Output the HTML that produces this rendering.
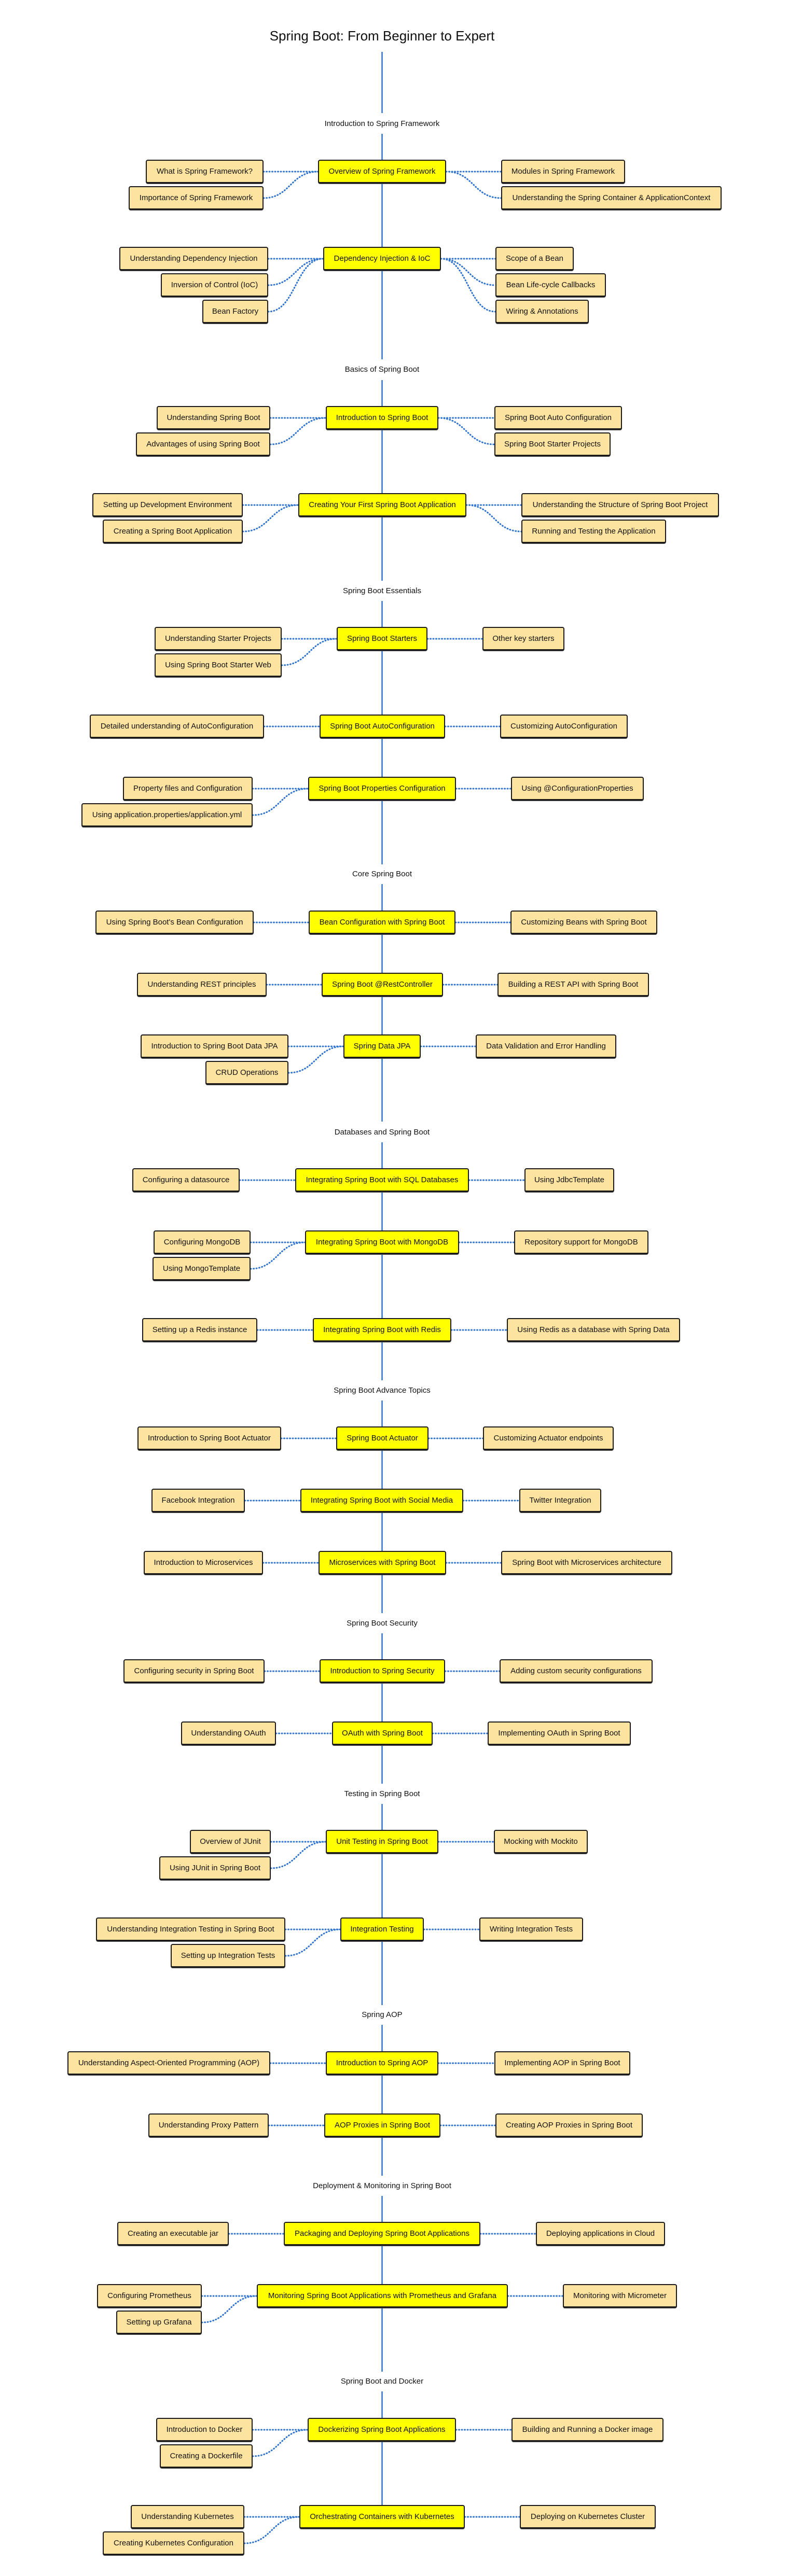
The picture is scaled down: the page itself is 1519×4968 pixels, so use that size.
<!DOCTYPE html>
<html><head><meta charset="utf-8"><style>
html,body{margin:0;padding:0;background:#fff;}
body{width:1519px;height:4968px;position:relative;overflow:hidden;font-family:"Liberation Sans",sans-serif;color:#111;}
svg{position:absolute;left:0;top:0;}
.b,.p{position:absolute;height:46px;box-sizing:border-box;border:2px solid #1a1a1a;border-bottom-width:3px;border-radius:4px;background:#fde3a0;display:flex;align-items:center;justify-content:center;font-size:15px;white-space:nowrap;box-shadow:0 1px 0 #555;}
.p{background:#ffff00;}
.l{position:absolute;left:0;width:1473px;text-align:center;font-size:15px;line-height:20px;}
.t{position:absolute;left:0;width:1473px;top:54px;text-align:center;font-size:26px;}
</style></head><body>
<svg width="1519" height="4968" viewBox="0 0 1519 4968">
<g stroke="#2f74d0" stroke-width="2.5" fill="none">
<path d="M736.5 100V218M736.5 258V693M736.5 733V1120M736.5 1159V1667M736.5 1705V2163M736.5 2203V2662M736.5 2701V3111M736.5 3150V3440M736.5 3479V3867M736.5 3905V4196M736.5 4235V4574M736.5 4612V4831"/>
</g>
<g stroke="#2f74d0" stroke-width="3" fill="none" stroke-dasharray="1 4.5" stroke-linecap="round">
<path d="M508 331 L613 331M508 382 C560 382 560 331 613 331M860 331 L966 331M860 331 C913 331 913 382 966 382"/>
<path d="M517 499 L623 499M517 550 C570 550 570 499 623 499M517 601 C570 601 570 499 623 499M850 499 L955 499M850 499 C902 499 902 550 955 550M850 499 C902 499 902 601 955 601"/>
<path d="M521 806 L628 806M521 857 C574 857 574 806 628 806M845 806 L953 806M845 806 C899 806 899 857 953 857"/>
<path d="M468 974 L575 974M468 1025 C521 1025 521 974 575 974M899 974 L1005 974M899 974 C952 974 952 1025 1005 1025"/>
<path d="M543 1232 L649 1232M543 1283 C596 1283 596 1232 649 1232M824 1232 L930 1232"/>
<path d="M509 1401 L616 1401M858 1401 L964 1401"/>
<path d="M487 1521 L594 1521M487 1572 C540 1572 540 1521 594 1521M879 1521 L985 1521"/>
<path d="M489 1779 L595 1779M878 1779 L984 1779M514 1899 L620 1899M854 1899 L959 1899"/>
<path d="M556 2018 L662 2018M556 2069 C609 2069 609 2018 662 2018M811 2018 L917 2018"/>
<path d="M462 2276 L569 2276M904 2276 L1011 2276"/>
<path d="M483 2396 L588 2396M483 2447 C535 2447 535 2396 588 2396M885 2396 L991 2396"/>
<path d="M496 2565 L603 2565M870 2565 L977 2565M542 2774 L648 2774M826 2774 L931 2774M472 2894 L579 2894M893 2894 L1001 2894M507 3014 L614 3014M860 3014 L966 3014"/>
<path d="M510 3223 L616 3223M858 3223 L963 3223M532 3343 L640 3343M834 3343 L940 3343"/>
<path d="M522 3552 L628 3552M522 3603 C575 3603 575 3552 628 3552M845 3552 L952 3552"/>
<path d="M550 3721 L656 3721M550 3772 C603 3772 603 3721 656 3721M817 3721 L924 3721"/>
<path d="M521 3979 L628 3979M845 3979 L953 3979M518 4099 L625 4099M849 4099 L955 4099"/>
<path d="M441 4308 L547 4308M926 4308 L1033 4308"/>
<path d="M389 4428 L495 4428M389 4479 C442 4479 442 4428 495 4428M979 4428 L1085 4428"/>
<path d="M487 4686 L593 4686M487 4737 C540 4737 540 4686 593 4686M879 4686 L986 4686"/>
<path d="M471 4854 L577 4854M471 4905 C524 4905 524 4854 577 4854M896 4854 L1002 4854"/>
</g>
</svg>

<div class="t">Spring Boot: From Beginner to Expert</div>

<div class="l" style="top:229px">Introduction to Spring Framework</div>
<div class="p" style="left:613px;top:308px;width:247px">Overview of Spring Framework</div>
<div class="b" style="left:281px;top:308px;width:227px">What is Spring Framework?</div>
<div class="b" style="left:248px;top:359px;width:260px">Importance of Spring Framework</div>
<div class="b" style="left:966px;top:308px;width:239px">Modules in Spring Framework</div>
<div class="b" style="left:966px;top:359px;width:425px">Understanding the Spring Container &amp; ApplicationContext</div>

<div class="p" style="left:623px;top:476px;width:227px">Dependency Injection &amp; IoC</div>
<div class="b" style="left:230px;top:476px;width:287px">Understanding Dependency Injection</div>
<div class="b" style="left:310px;top:527px;width:207px">Inversion of Control (IoC)</div>
<div class="b" style="left:390px;top:578px;width:127px">Bean Factory</div>
<div class="b" style="left:955px;top:476px;width:151px">Scope of a Bean</div>
<div class="b" style="left:955px;top:527px;width:213px">Bean Life-cycle Callbacks</div>
<div class="b" style="left:955px;top:578px;width:180px">Wiring &amp; Annotations</div>

<div class="l" style="top:703px">Basics of Spring Boot</div>
<div class="p" style="left:628px;top:783px;width:217px">Introduction to Spring Boot</div>
<div class="b" style="left:302px;top:783px;width:219px">Understanding Spring Boot</div>
<div class="b" style="left:262px;top:834px;width:259px">Advantages of using Spring Boot</div>
<div class="b" style="left:953px;top:783px;width:246px">Spring Boot Auto Configuration</div>
<div class="b" style="left:953px;top:834px;width:224px">Spring Boot Starter Projects</div>

<div class="p" style="left:575px;top:951px;width:324px">Creating Your First Spring Boot Application</div>
<div class="b" style="left:178px;top:951px;width:290px">Setting up Development Environment</div>
<div class="b" style="left:198px;top:1002px;width:270px">Creating a Spring Boot Application</div>
<div class="b" style="left:1005px;top:951px;width:381px">Understanding the Structure of Spring Boot Project</div>
<div class="b" style="left:1005px;top:1002px;width:279px">Running and Testing the Application</div>

<div class="l" style="top:1130px">Spring Boot Essentials</div>
<div class="p" style="left:649px;top:1209px;width:175px">Spring Boot Starters</div>
<div class="b" style="left:298px;top:1209px;width:245px">Understanding Starter Projects</div>
<div class="b" style="left:298px;top:1260px;width:245px">Using Spring Boot Starter Web</div>
<div class="b" style="left:930px;top:1209px;width:158px">Other key starters</div>

<div class="p" style="left:616px;top:1378px;width:242px">Spring Boot AutoConfiguration</div>
<div class="b" style="left:173px;top:1378px;width:336px">Detailed understanding of AutoConfiguration</div>
<div class="b" style="left:964px;top:1378px;width:246px">Customizing AutoConfiguration</div>

<div class="p" style="left:594px;top:1498px;width:285px">Spring Boot Properties Configuration</div>
<div class="b" style="left:237px;top:1498px;width:250px">Property files and Configuration</div>
<div class="b" style="left:157px;top:1549px;width:330px">Using application.properties/application.yml</div>
<div class="b" style="left:985px;top:1498px;width:256px">Using @ConfigurationProperties</div>

<div class="l" style="top:1676px">Core Spring Boot</div>
<div class="p" style="left:595px;top:1756px;width:283px">Bean Configuration with Spring Boot</div>
<div class="b" style="left:184px;top:1756px;width:305px">Using Spring Boot's Bean Configuration</div>
<div class="b" style="left:984px;top:1756px;width:283px">Customizing Beans with Spring Boot</div>

<div class="p" style="left:620px;top:1876px;width:234px">Spring Boot @RestController</div>
<div class="b" style="left:264px;top:1876px;width:250px">Understanding REST principles</div>
<div class="b" style="left:959px;top:1876px;width:292px">Building a REST API with Spring Boot</div>

<div class="p" style="left:662px;top:1995px;width:149px">Spring Data JPA</div>
<div class="b" style="left:271px;top:1995px;width:285px">Introduction to Spring Boot Data JPA</div>
<div class="b" style="left:396px;top:2046px;width:160px">CRUD Operations</div>
<div class="b" style="left:917px;top:1995px;width:271px">Data Validation and Error Handling</div>

<div class="l" style="top:2174px">Databases and Spring Boot</div>
<div class="p" style="left:569px;top:2253px;width:335px">Integrating Spring Boot with SQL Databases</div>
<div class="b" style="left:255px;top:2253px;width:207px">Configuring a datasource</div>
<div class="b" style="left:1011px;top:2253px;width:173px">Using JdbcTemplate</div>

<div class="p" style="left:588px;top:2373px;width:297px">Integrating Spring Boot with MongoDB</div>
<div class="b" style="left:296px;top:2373px;width:187px">Configuring MongoDB</div>
<div class="b" style="left:294px;top:2424px;width:189px">Using MongoTemplate</div>
<div class="b" style="left:991px;top:2373px;width:259px">Repository support for MongoDB</div>

<div class="p" style="left:603px;top:2542px;width:267px">Integrating Spring Boot with Redis</div>
<div class="b" style="left:274px;top:2542px;width:222px">Setting up a Redis instance</div>
<div class="b" style="left:977px;top:2542px;width:334px">Using Redis as a database with Spring Data</div>

<div class="l" style="top:2672px">Spring Boot Advance Topics</div>
<div class="p" style="left:648px;top:2751px;width:178px">Spring Boot Actuator</div>
<div class="b" style="left:265px;top:2751px;width:277px">Introduction to Spring Boot Actuator</div>
<div class="b" style="left:931px;top:2751px;width:252px">Customizing Actuator endpoints</div>

<div class="p" style="left:579px;top:2871px;width:314px">Integrating Spring Boot with Social Media</div>
<div class="b" style="left:292px;top:2871px;width:180px">Facebook Integration</div>
<div class="b" style="left:1001px;top:2871px;width:158px">Twitter Integration</div>

<div class="p" style="left:614px;top:2991px;width:246px">Microservices with Spring Boot</div>
<div class="b" style="left:277px;top:2991px;width:230px">Introduction to Microservices</div>
<div class="b" style="left:966px;top:2991px;width:330px">Spring Boot with Microservices architecture</div>

<div class="l" style="top:3121px">Spring Boot Security</div>
<div class="p" style="left:616px;top:3200px;width:242px">Introduction to Spring Security</div>
<div class="b" style="left:238px;top:3200px;width:272px">Configuring security in Spring Boot</div>
<div class="b" style="left:963px;top:3200px;width:295px">Adding custom security configurations</div>

<div class="p" style="left:640px;top:3320px;width:194px">OAuth with Spring Boot</div>
<div class="b" style="left:349px;top:3320px;width:183px">Understanding OAuth</div>
<div class="b" style="left:940px;top:3320px;width:276px">Implementing OAuth in Spring Boot</div>

<div class="l" style="top:3450px">Testing in Spring Boot</div>
<div class="p" style="left:628px;top:3529px;width:217px">Unit Testing in Spring Boot</div>
<div class="b" style="left:366px;top:3529px;width:156px">Overview of JUnit</div>
<div class="b" style="left:307px;top:3580px;width:215px">Using JUnit in Spring Boot</div>
<div class="b" style="left:952px;top:3529px;width:181px">Mocking with Mockito</div>

<div class="p" style="left:656px;top:3698px;width:161px">Integration Testing</div>
<div class="b" style="left:185px;top:3698px;width:365px">Understanding Integration Testing in Spring Boot</div>
<div class="b" style="left:329px;top:3749px;width:221px">Setting up Integration Tests</div>
<div class="b" style="left:924px;top:3698px;width:200px">Writing Integration Tests</div>

<div class="l" style="top:3876px">Spring AOP</div>
<div class="p" style="left:628px;top:3956px;width:217px">Introduction to Spring AOP</div>
<div class="b" style="left:130px;top:3956px;width:391px">Understanding Aspect-Oriented Programming (AOP)</div>
<div class="b" style="left:953px;top:3956px;width:262px">Implementing AOP in Spring Boot</div>

<div class="p" style="left:625px;top:4076px;width:224px">AOP Proxies in Spring Boot</div>
<div class="b" style="left:286px;top:4076px;width:232px">Understanding Proxy Pattern</div>
<div class="b" style="left:955px;top:4076px;width:284px">Creating AOP Proxies in Spring Boot</div>

<div class="l" style="top:4206px">Deployment &amp; Monitoring in Spring Boot</div>
<div class="p" style="left:547px;top:4285px;width:379px">Packaging and Deploying Spring Boot Applications</div>
<div class="b" style="left:226px;top:4285px;width:215px">Creating an executable jar</div>
<div class="b" style="left:1033px;top:4285px;width:249px">Deploying applications in Cloud</div>

<div class="p" style="left:495px;top:4405px;width:484px">Monitoring Spring Boot Applications with Prometheus and Grafana</div>
<div class="b" style="left:187px;top:4405px;width:202px">Configuring Prometheus</div>
<div class="b" style="left:224px;top:4456px;width:165px">Setting up Grafana</div>
<div class="b" style="left:1085px;top:4405px;width:220px">Monitoring with Micrometer</div>

<div class="l" style="top:4583px">Spring Boot and Docker</div>
<div class="p" style="left:593px;top:4663px;width:286px">Dockerizing Spring Boot Applications</div>
<div class="b" style="left:301px;top:4663px;width:186px">Introduction to Docker</div>
<div class="b" style="left:308px;top:4714px;width:179px">Creating a Dockerfile</div>
<div class="b" style="left:986px;top:4663px;width:293px">Building and Running a Docker image</div>

<div class="p" style="left:577px;top:4831px;width:319px">Orchestrating Containers with Kubernetes</div>
<div class="b" style="left:252px;top:4831px;width:219px">Understanding Kubernetes</div>
<div class="b" style="left:198px;top:4882px;width:273px">Creating Kubernetes Configuration</div>
<div class="b" style="left:1002px;top:4831px;width:262px">Deploying on Kubernetes Cluster</div>
</body></html>
